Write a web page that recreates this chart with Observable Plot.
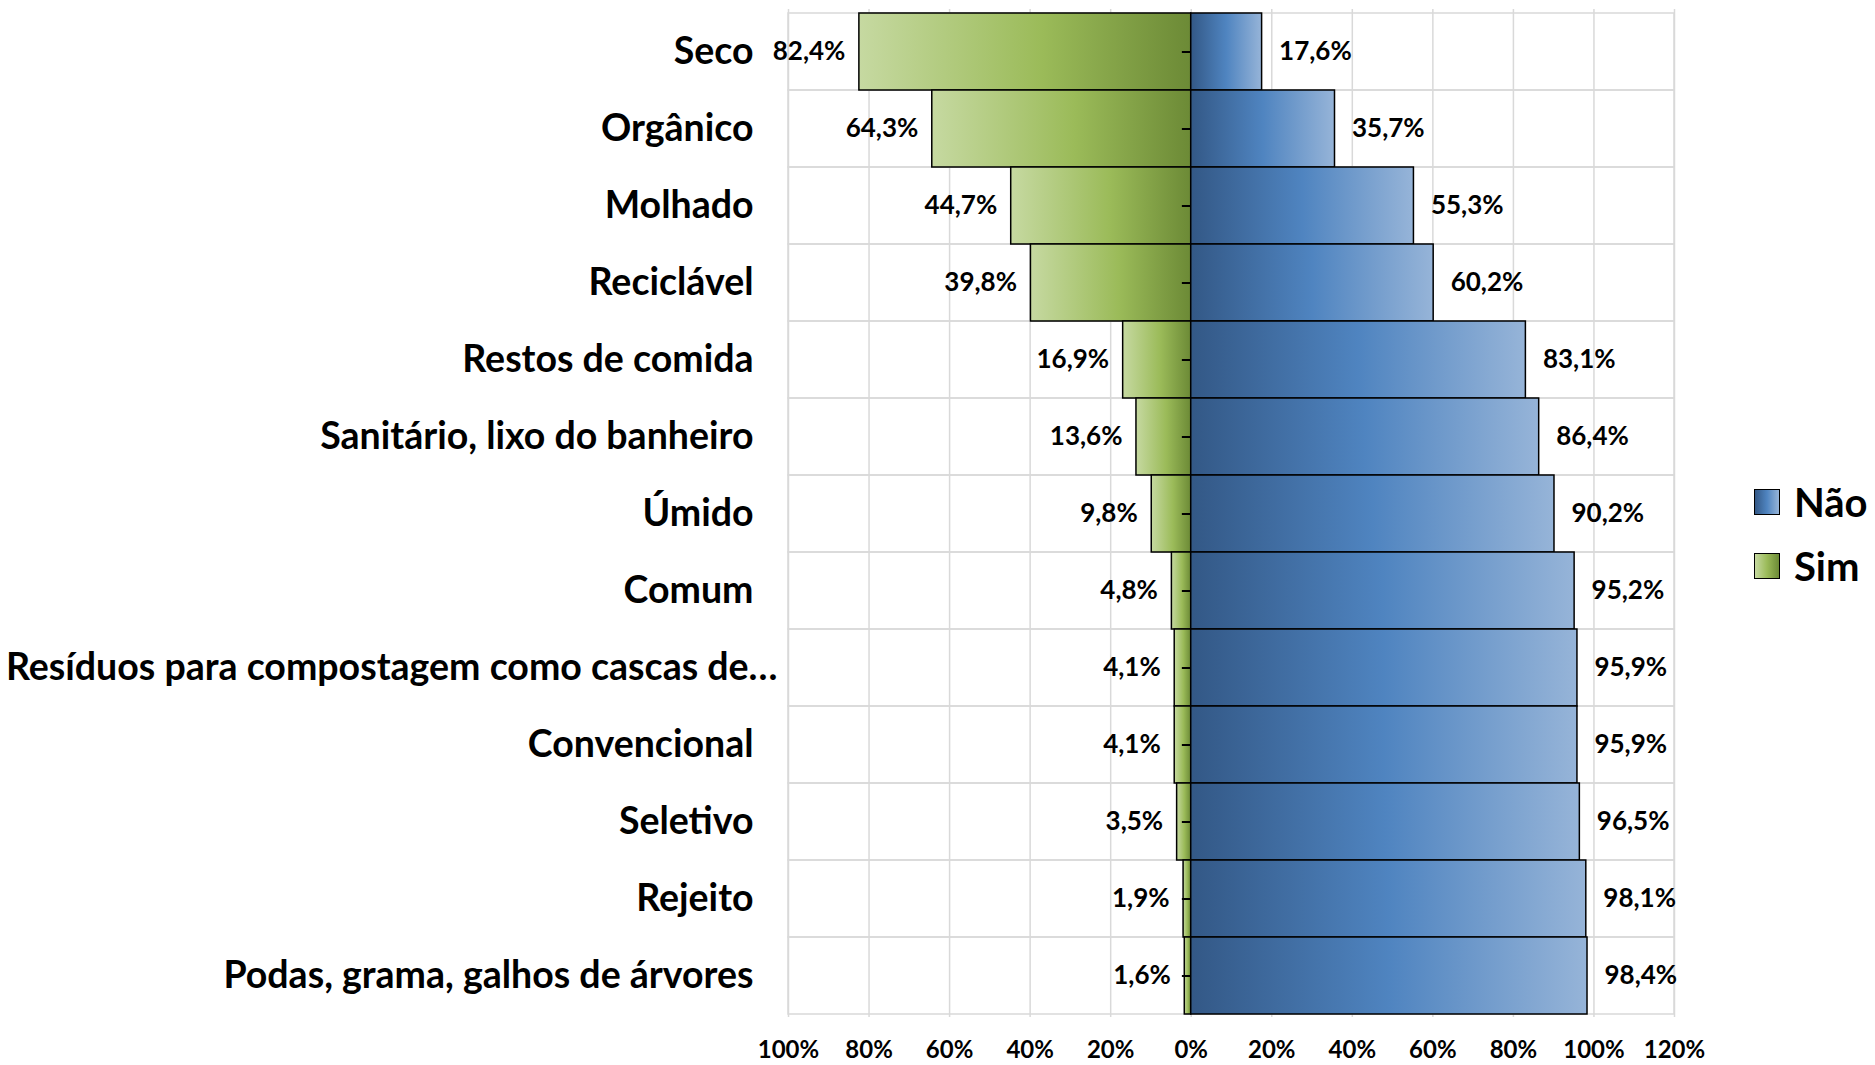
<!DOCTYPE html>
<html><head><meta charset="utf-8">
<script src="https://cdn.jsdelivr.net/npm/d3@7"></script>
<script src="https://cdn.jsdelivr.net/npm/@observablehq/plot@0.6"></script>
<style>
body{margin:0;background:#fff;font-family:Lato,"Open Sans",sans-serif;}
#wrap{position:relative;width:1875px;height:1065px;}
#legend{position:absolute;left:1754px;top:478px;font-weight:bold;font-size:40px;color:#000;}
.item{display:flex;align-items:center;height:48px;margin-bottom:16px;}
.sw{width:26px;height:26px;border:1.5px solid #000;box-sizing:border-box;margin-right:14px;}
</style></head><body><div id="wrap"></div>
<script>
const categories = ["Seco","Orgânico","Molhado","Reciclável","Restos de comida","Sanitário, lixo do banheiro","Úmido","Comum","Resíduos para compostagem como cascas de…","Convencional","Seletivo","Rejeito","Podas, grama, galhos de árvores"];
const sim = [82.4,64.3,44.7,39.8,16.9,13.6,9.8,4.8,4.1,4.1,3.5,1.9,1.6];
const nao = [17.6,35.7,55.3,60.2,83.1,86.4,90.2,95.2,95.9,95.9,96.5,98.1,98.4];
const xTicks = [-100,-80,-60,-40,-20,0,20,40,60,80,100,120];
const seriesNames = ["Não","Sim"];
const longLabel = categories[8];

const data = categories.map((c,i)=>({cat:c, sim:sim[i], nao:nao[i]}));
const fmt = v => v.toFixed(1).replace(".",",") + "%";

const chart = Plot.plot({
  width:1875, height:1065,
  marginLeft:788, marginRight:201, marginTop:9, marginBottom:48,
  style:{fontFamily:"Lato, 'Open Sans', sans-serif", color:"#000", background:"#fff"},
  x:{domain:[-100,120], label:null},
  y:{domain:categories, padding:0, label:null},
  marks:[
    Plot.gridX(xTicks,{stroke:"#d9d9d9", strokeOpacity:1, strokeWidth:1.5}),
    Plot.barX(categories,{y:d=>d, x1:xTicks[0], x2:xTicks[xTicks.length-1], fill:"none", stroke:"#d9d9d9", strokeWidth:1.5}),
    Plot.barX(data,{y:"cat", x1:0, x2:d=>-d.sim, fill:"url(#gGreen)", stroke:"#000", strokeWidth:1.5}),
    Plot.barX(data,{y:"cat", x1:0, x2:d=>d.nao, fill:"url(#gBlue)", stroke:"#000", strokeWidth:1.5}),
    Plot.ruleY(categories,{y:d=>d, x1:-2.2, x2:0, stroke:"#000", strokeWidth:2}),
    Plot.text(data,{y:"cat", x:d=>-d.sim, text:d=>fmt(d.sim), textAnchor:"end", dx:-14, fontSize:26, fontWeight:"bold", fill:"#000"}),
    Plot.text(data,{y:"cat", x:d=>d.nao, text:d=>fmt(d.nao), textAnchor:"start", dx:17, fontSize:26, fontWeight:"bold", fill:"#000"}),
    Plot.axisY(categories.filter(c=>c!==longLabel),{tickSize:0, tickPadding:35, fontSize:37.5, fontWeight:"bold", label:null}),
    Plot.axisY([longLabel],{tickSize:0, tickPadding:11, fontSize:37.5, fontWeight:"bold", label:null}),
    Plot.axisX({ticks:xTicks, tickFormat:d=>Math.abs(d)+"%", tickSize:0, tickPadding:23, fontSize:24, fontWeight:"bold", label:null})
  ]
});

const defs = `<defs>
<linearGradient id="gGreen" x1="0" y1="0" x2="1" y2="0">
<stop offset="0" stop-color="#c6d9a1"/><stop offset="0.55" stop-color="#9bbb59"/><stop offset="1" stop-color="#6c8a36"/>
</linearGradient>
<linearGradient id="gBlue" x1="0" y1="0" x2="1" y2="0">
<stop offset="0" stop-color="#335886"/><stop offset="0.5" stop-color="#4f84c0"/><stop offset="1" stop-color="#96b4d8"/>
</linearGradient></defs>`;
chart.insertAdjacentHTML("afterbegin", defs);

const wrap = document.getElementById("wrap");
wrap.appendChild(chart);
const legend = document.createElement("div");
legend.id = "legend";
const swatchBg = {
  "Não":"linear-gradient(to right,#335886,#4f84c0,#96b4d8)",
  "Sim":"linear-gradient(to right,#c6d9a1,#9bbb59,#6c8a36)"
};
seriesNames.forEach(n=>{
  const it = document.createElement("div"); it.className="item";
  const sw = document.createElement("div"); sw.className="sw"; sw.style.background=swatchBg[n];
  const t = document.createElement("span"); t.textContent=n;
  it.appendChild(sw); it.appendChild(t); legend.appendChild(it);
});
wrap.appendChild(legend);
</script></body></html>
